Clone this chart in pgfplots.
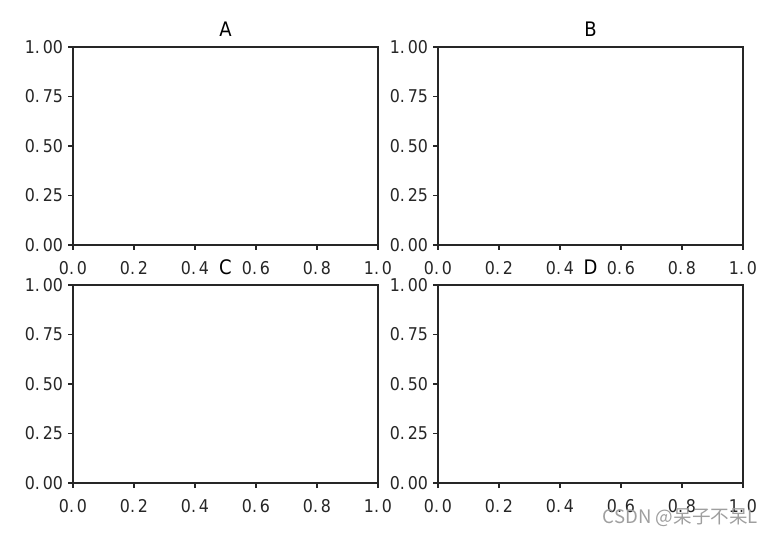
\documentclass[border=0pt]{standalone}
\usepackage{fontspec}
\setmainfont{DejaVu Sans Condensed}
\newfontfamily\cjk{Noto Sans CJK SC}
\usepackage{pgfplots}
\pgfplotsset{compat=1.18}
\pgfplotsset{
  myax/.style={
    scale only axis, anchor=south west,
    width=152.5pt, height=99pt,
    xmin=0, xmax=1, ymin=0, ymax=1,
    xtick={0,0.2,0.4,0.6,0.8,1},
    xticklabels={0.\,0,0.\,2,0.\,4,0.\,6,0.\,8,1.\,0},
    ytick={0,0.25,0.5,0.75,1},
    yticklabels={0.\,00,0.\,25,0.\,50,0.\,75,1.\,00},
    tick align=outside, major tick length=2.5pt,
    xtick pos=bottom, ytick pos=left,
    axis line style={line width=0.65pt, black!85},
    every tick/.style={line width=0.6pt, black!85},
    xticklabel style={font=\fontsize{8.8}{9}\selectfont, text=black!85, yshift=-2pt},
    yticklabel style={font=\fontsize{8.8}{9}\selectfont, text=black!85, xshift=1pt},
    every axis title shift=0pt,
    title style={font=\fontsize{10}{11}\selectfont, at={(0.5,1)}, anchor=base, yshift=5.3pt},
  }
}
\begin{document}
\begin{tikzpicture}
\useasboundingbox (0,0) rectangle (390pt,267pt);
\begin{axis}[myax, at={(36.5pt,144.5pt)}, title={A}]
\addplot[draw=none] coordinates {(0,0)};
\end{axis}
\begin{axis}[myax, at={(219pt,144.5pt)}, title={B}]
\addplot[draw=none] coordinates {(0,0)};
\end{axis}
\begin{axis}[myax, at={(36.5pt,25.5pt)}, title={C}]
\addplot[draw=none] coordinates {(0,0)};
\end{axis}
\begin{axis}[myax, at={(219pt,25.5pt)}, title={D}]
\addplot[draw=none] coordinates {(0,0)};
\end{axis}
\node[anchor=east, text=gray!75, font=\cjk\fontsize{9.3}{10}\selectfont] at (382.5pt,8pt) {CSDN @呆子不呆L};
\end{tikzpicture}
\end{document}
